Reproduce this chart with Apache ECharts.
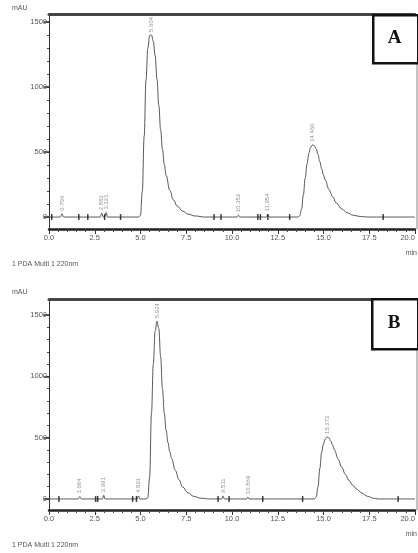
<!DOCTYPE html>
<html><head><meta charset="utf-8">
<script src="https://cdn.jsdelivr.net/npm/echarts@6/dist/echarts.min.js"></script>
<style>html,body{margin:0;padding:0;background:#fff}#c{width:418px;height:553px}</style>
</head><body><div id="c"></div>
<script>
// ---- tick labels ----
const yLabelValues = [0, 500, 1000, 1500];
const yMinorTicks = [0,100,200,300,400,500,600,700,800,900,1000,1100,1200,1300,1400,1500];
const xMin = 0, xMax = 20, xStep = 2.5;

// ---- chromatogram A: [time (min), absorbance (mAU)] ----
const signalA = [
  [0,0],[0.62,0],[0.71,25],[0.8,0],[2.8,0],[2.88,30],[2.96,0],[3.04,0],[3.12,35],[3.2,0],
  [4.9,0],[5.0,15],[5.1,200],[5.2,620],[5.3,1050],[5.4,1300],[5.5,1395],[5.6,1400],[5.7,1350],
  [5.8,1240],[5.9,1060],[6.0,860],[6.1,670],[6.2,520],[6.3,405],[6.4,320],[6.6,205],[6.8,132],
  [7.0,85],[7.3,45],[7.6,22],[8.0,8],[8.5,0],
  [10.28,0],[10.35,15],[10.42,0],[11.88,0],[11.95,20],[12.02,0],
  [13.6,0],[13.7,10],[13.8,60],[13.9,170],[14.0,300],[14.1,410],[14.2,490],[14.3,535],[14.4,555],
  [14.5,548],[14.6,525],[14.7,480],[14.8,425],[14.9,370],[15.0,322],[15.1,282],[15.3,212],
  [15.5,155],[15.7,108],[16.0,62],[16.3,33],[16.6,15],[17.0,4],[17.5,0],[20,0]
];
const peakTimesA = [0.71, 2.88, 3.12, 5.6, 10.35, 11.95, 14.4];
const peakHeightsA = [25, 30, 35, 1400, 15, 20, 555];
const peakNamesA = ['0.706', '2.882', '3.121', '5.604', '10.352', '11.954', '14.460'];
const markTimesA = [0.15, 1.63, 2.12, 3.04, 3.91, 9.02, 9.40, 11.41, 11.55, 11.96, 13.15, 18.26];

// ---- chromatogram B ----
const signalB = [
  [0,0],[1.6,0],[1.68,20],[1.76,0],[2.92,0],[2.99,30],[3.06,0],[4.82,0],[4.89,25],[4.96,0],
  [5.3,0],[5.4,10],[5.5,180],[5.6,700],[5.7,1100],[5.8,1370],[5.9,1450],[6.0,1390],[6.1,1160],
  [6.2,900],[6.3,700],[6.4,560],[6.5,460],[6.6,385],[6.7,330],[6.9,235],[7.1,158],[7.3,98],
  [7.6,50],[7.9,22],[8.3,6],[8.8,0],
  [9.44,0],[9.51,25],[9.58,0],[10.8,0],[10.87,15],[10.94,0],
  [14.5,0],[14.6,15],[14.7,100],[14.8,250],[14.9,380],[15.0,450],[15.1,490],[15.2,506],[15.3,498],
  [15.4,472],[15.5,438],[15.6,400],[15.8,325],[16.0,258],[16.2,198],[16.4,150],[16.6,112],
  [16.8,82],[17.1,48],[17.4,22],[17.7,7],[18.0,0],[20,0]
];
const peakTimesB = [1.68, 2.99, 4.89, 5.9, 9.51, 10.87, 15.2];
const peakHeightsB = [20, 30, 25, 1450, 25, 15, 506];
const peakNamesB = ['1.684', '2.991', '4.891', '5.924', '9.511', '10.869', '15.272'];
const markTimesB = [0.54, 2.55, 2.66, 4.57, 4.78, 9.24, 9.84, 11.68, 13.86, 19.08];

const chart = echarts.init(document.getElementById('c'), null, {renderer: 'canvas'});
const grey = '#555';
const font = 'Liberation Sans, Arial, sans-serif';

function grid(top, height) { return {left: 49, top: top, width: 368, height: height, containLabel: false}; }
function bottomX(gi) {
  return {
    type: 'value', gridIndex: gi, min: xMin, max: xMax, interval: xStep, position: 'bottom',
    axisLine: {onZero: false, lineStyle: {color: '#222', width: 2.5}},
    axisTick: {show: true, length: 5, lineStyle: {color: '#333', width: 1}},
    minorTick: {show: true, splitNumber: 5, length: 3, lineStyle: {color: '#444', width: 1}},
    axisLabel: {fontSize: 7.5, color: grey, margin: 5, fontFamily: font, alignMaxLabel: 'right',
      formatter: v => v.toFixed(1)},
    splitLine: {show: false}
  };
}
function topX(gi) {
  return {
    type: 'value', gridIndex: gi, min: xMin, max: xMax, position: 'top',
    axisLine: {onZero: false, lineStyle: {color: '#444', width: 3}},
    axisTick: {show: false}, axisLabel: {show: false}, splitLine: {show: false}
  };
}
function minorY(gi, mn, mx) {
  return {
    type: 'value', gridIndex: gi, min: mn, max: mx, position: 'left',
    axisLine: {show: true, onZero: false, lineStyle: {color: '#333', width: 1}},
    axisTick: {show: true, length: 2, customValues: yMinorTicks, lineStyle: {color: '#444'}},
    axisLabel: {show: false}, splitLine: {show: false}
  };
}
function majorY(gi, mn, mx) {
  return {
    type: 'value', gridIndex: gi, min: mn, max: mx, position: 'left',
    axisLine: {show: false},
    axisTick: {show: true, length: 5, customValues: yLabelValues, lineStyle: {color: '#333', width: 1.5}},
    axisLabel: {show: true, customValues: yLabelValues, fontSize: 7.5, color: grey, margin: 2, fontFamily: font,
      formatter: v => String(v)},
    splitLine: {show: false}
  };
}
function lineSeries(xi, yi, data) {
  return {type: 'line', xAxisIndex: xi, yAxisIndex: yi, data: data, showSymbol: false, symbol: 'none',
    smooth: 0.4, smoothMonotone: 'x',
    lineStyle: {color: '#444', width: 0.9}, animation: false, z: 2};
}
function labelSeries(xi, yi, times, heights, names) {
  return {type: 'scatter', xAxisIndex: xi, yAxisIndex: yi, symbolSize: 0, animation: false, z: 3,
    data: times.map((t, i) => ({value: [t, heights[i]], name: names[i]})),
    label: {show: true, formatter: p => p.name, rotate: 90, position: 'top', align: 'left',
      verticalAlign: 'middle', distance: 3, fontSize: 6, color: '#777', fontFamily: font}};
}
function markSeries(xi, yi, times) {
  return {type: 'scatter', xAxisIndex: xi, yAxisIndex: yi, symbol: 'rect', symbolSize: [1.5, 6],
    itemStyle: {color: '#111'}, animation: false, z: 4,
    data: times.map(t => [t, 0])};
}

function box(x, y, w, h, letter) {
  return [
    {type: 'rect', left: x, top: y, shape: {width: w, height: h}, z: 100,
      style: {fill: '#fff', stroke: '#111', lineWidth: 2.5}},
    {type: 'text', x: x + w / 2, y: y + h / 2, z: 101,
      style: {text: letter, font: 'bold 19px "Liberation Serif", "DejaVu Serif", serif', fill: '#111',
        align: 'center', verticalAlign: 'middle'}}
  ];
}
function txt(x, y, s, align) {
  return {type: 'text', x: x, y: y, z: 50,
    style: {text: s, font: '7px ' + font, fill: grey, align: align || 'left', verticalAlign: 'middle'}};
}

chart.setOption({
  animation: false,
  grid: [grid(14, 215), grid(299, 211)],
  xAxis: [bottomX(0), topX(0), bottomX(1), topX(1)],
  yAxis: [minorY(0, -92, 1561), majorY(0, -92, 1561), minorY(1, -90, 1631), majorY(1, -90, 1631)],
  series: [
    lineSeries(0, 0, signalA), labelSeries(0, 0, peakTimesA, peakHeightsA, peakNamesA), markSeries(0, 0, markTimesA),
    lineSeries(2, 2, signalB), labelSeries(2, 2, peakTimesB, peakHeightsB, peakNamesB), markSeries(2, 2, markTimesB)
  ],
  graphic: [
    {type: 'line', shape: {x1: 417, y1: 14, x2: 417, y2: 229}, style: {stroke: '#888', lineWidth: 1}},
    {type: 'line', shape: {x1: 417, y1: 299, x2: 417, y2: 510}, style: {stroke: '#888', lineWidth: 1}},
    ...box(372, 14, 45, 48, 'A'),
    ...box(371, 298, 46, 50, 'B'),
    txt(12, 8.5, 'mAU'), txt(12, 292.5, 'mAU'),
    txt(417, 253, 'min', 'right'), txt(417, 534, 'min', 'right'),
    txt(12, 264, '1 PDA Multi 1 220nm'), txt(12, 545, '1 PDA Multi 1 220nm')
  ]
});
</script></body></html>
